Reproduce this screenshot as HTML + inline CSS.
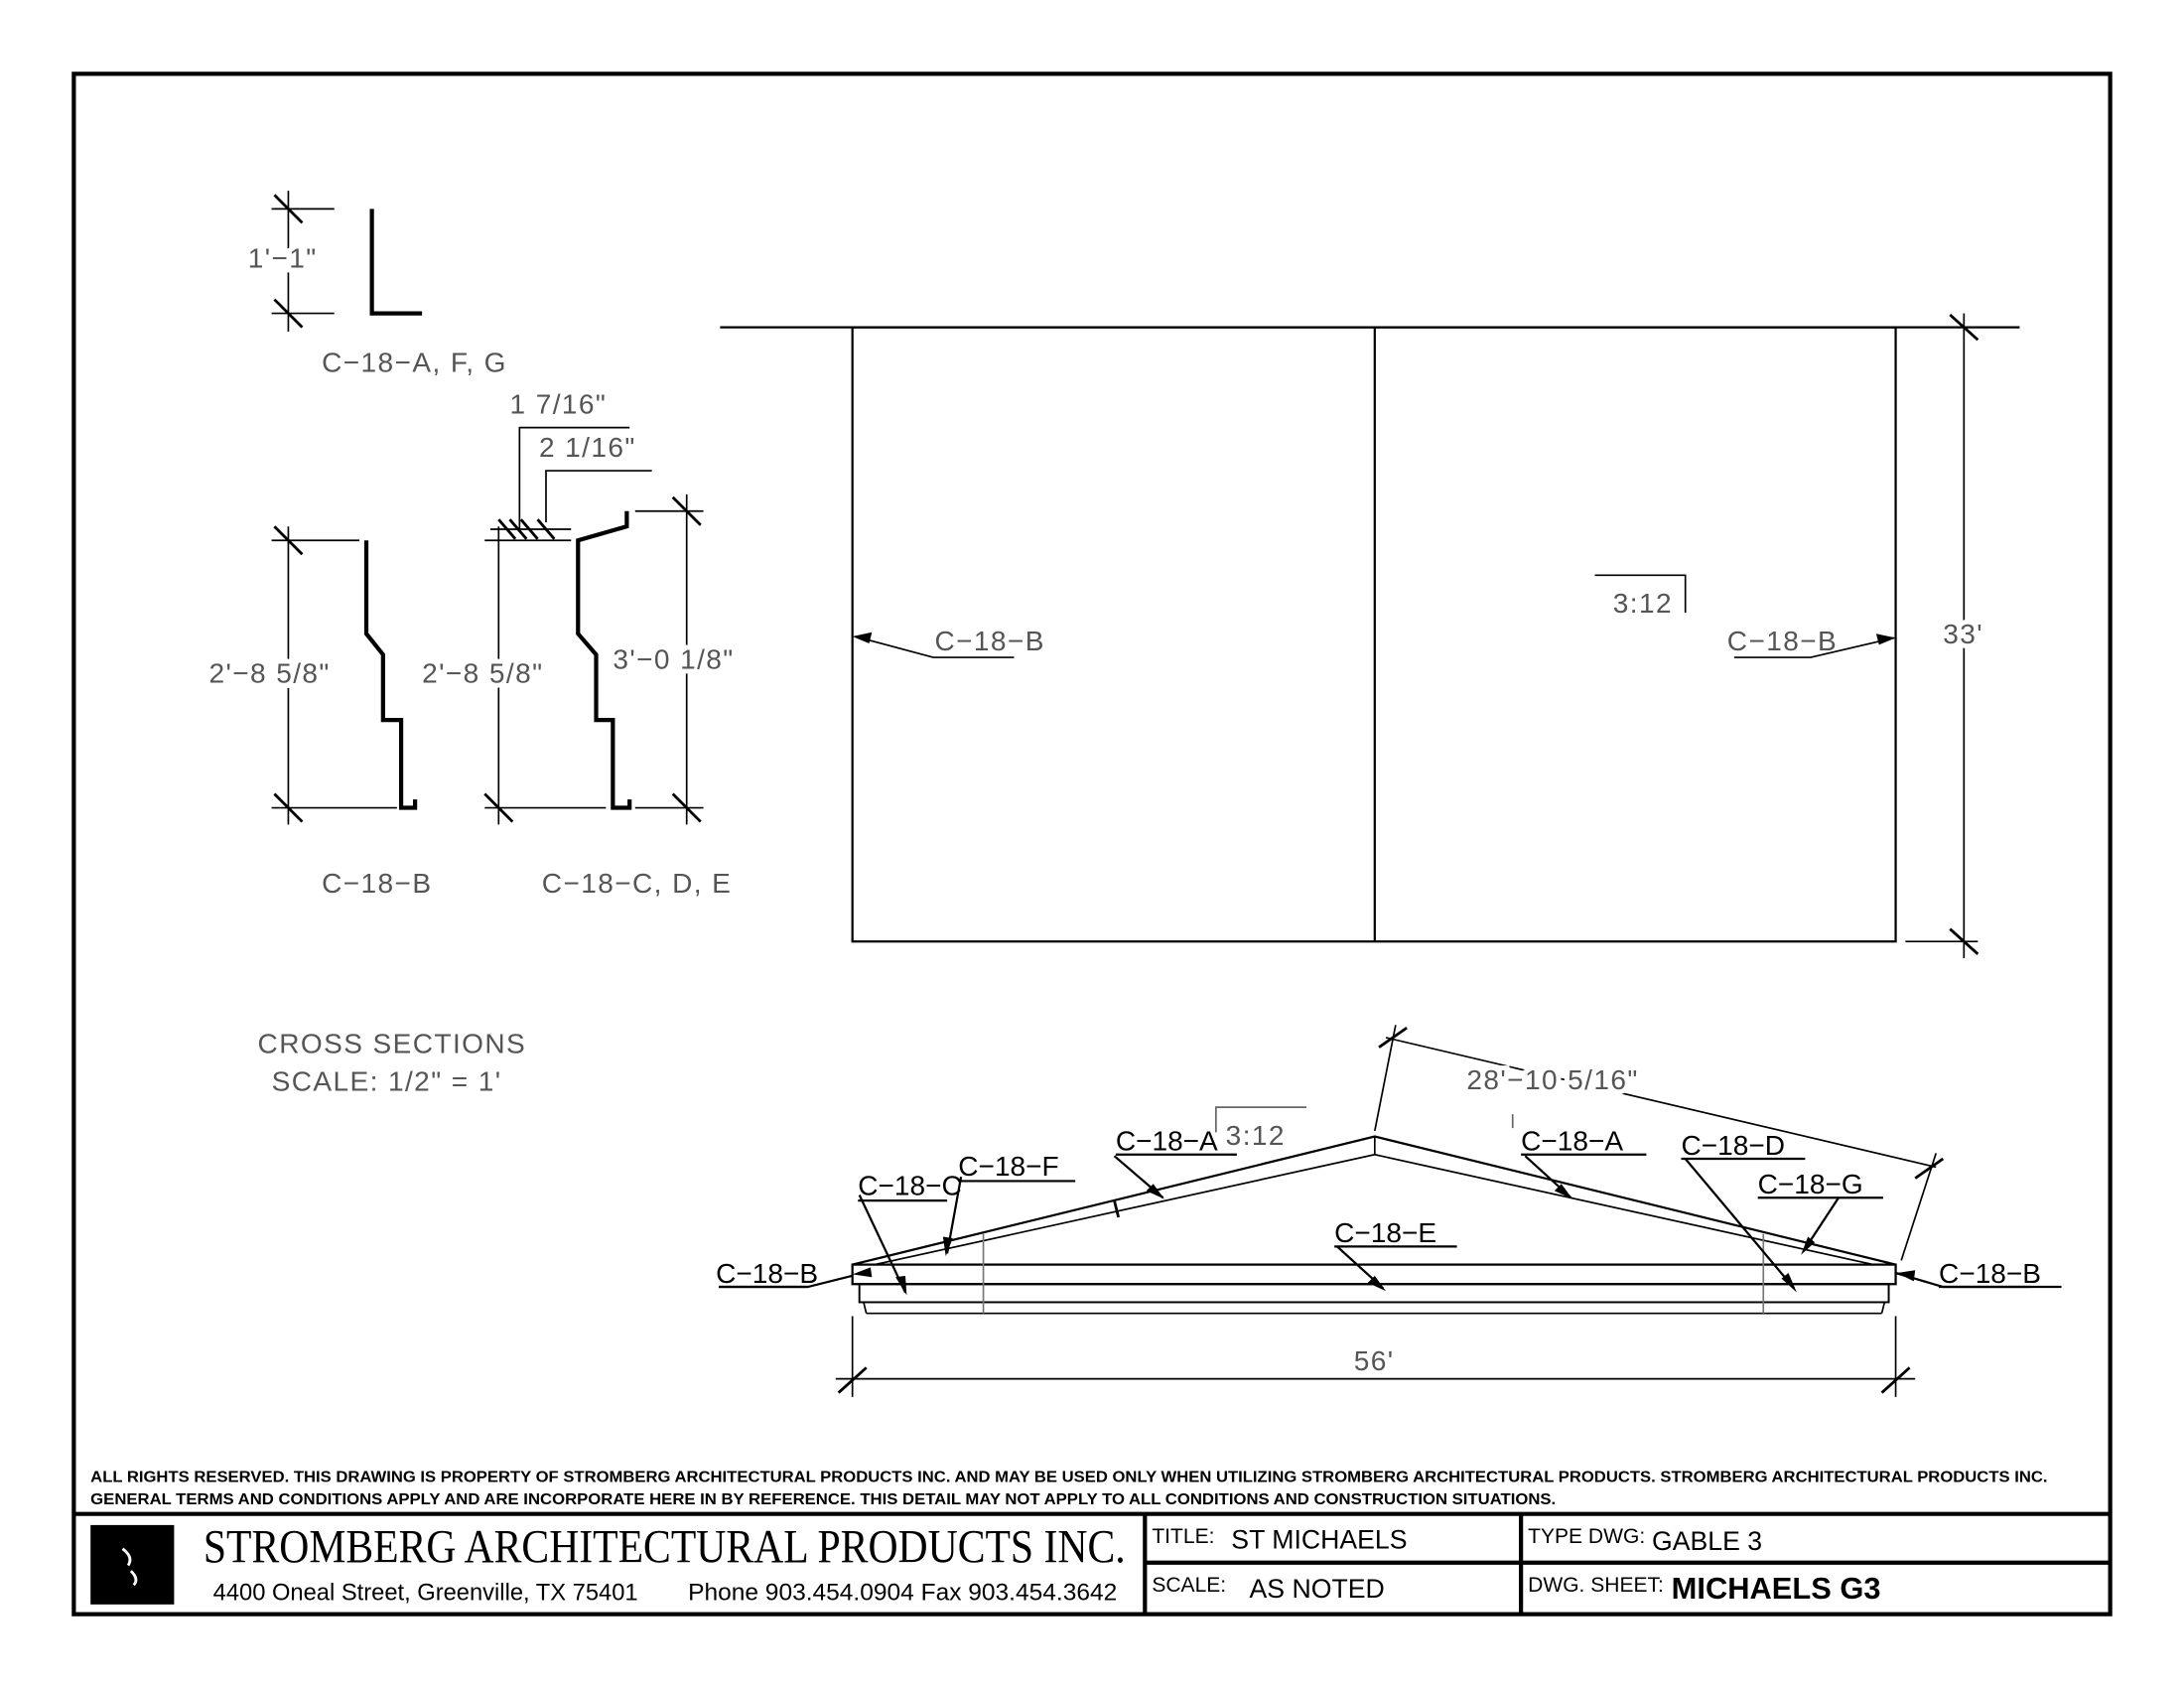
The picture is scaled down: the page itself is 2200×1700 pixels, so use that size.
<!DOCTYPE html>
<html><head><meta charset="utf-8"><style>
html,body{margin:0;padding:0;background:#fff;}
svg{display:block;}
.t{font-family:"Liberation Sans",sans-serif;font-size:20px;fill:#555;letter-spacing:1px;}
.d{stroke:#fff;stroke-width:7px;paint-order:stroke;}
.b{font-family:"Liberation Sans",sans-serif;font-size:20px;fill:#000;}
.n{font-family:"Liberation Sans",sans-serif;font-size:11.5px;font-weight:bold;fill:#000;}
</style></head><body>
<svg width="2200" height="1700" viewBox="0 0 1568 1212" preserveAspectRatio="none" xmlns="http://www.w3.org/2000/svg">
<rect width="1568" height="1212" fill="#fff"/>
<g fill="none" stroke="#000" stroke-width="1.2">
<polyline points="267,150 267,225 303,225" stroke-width="3"/>
<line x1="207" y1="137" x2="207" y2="238"/>
<line x1="197" y1="140" x2="217" y2="160" stroke-width="2"/>
<line x1="197" y1="215" x2="217" y2="235" stroke-width="2"/>
<line x1="195" y1="150" x2="240" y2="150"/>
<line x1="195" y1="225" x2="240" y2="225"/>
<polyline points="263,388 263,455 275,470 275,517 288,517 288,580 298,580 298,574" stroke-width="3"/>
<line x1="207" y1="378" x2="207" y2="592"/>
<line x1="195" y1="388" x2="258" y2="388"/>
<line x1="195" y1="580" x2="285" y2="580"/>
<line x1="197" y1="378" x2="217" y2="398" stroke-width="2"/>
<line x1="197" y1="570" x2="217" y2="590" stroke-width="2"/>
<polyline points="450,367 450,378 415,388 415,455 428,470 428,517 440,517 440,580 452,580 452,574" stroke-width="3"/>
<line x1="358" y1="378" x2="358" y2="592"/>
<line x1="348" y1="388" x2="410" y2="388"/>
<line x1="348" y1="580" x2="435" y2="580"/>
<line x1="348" y1="570" x2="368" y2="590" stroke-width="2"/>
<line x1="493" y1="355" x2="493" y2="592"/>
<line x1="456" y1="367" x2="505" y2="367"/>
<line x1="456" y1="580" x2="505" y2="580"/>
<line x1="483" y1="357" x2="503" y2="377" stroke-width="2"/>
<line x1="483" y1="570" x2="503" y2="590" stroke-width="2"/>
<line x1="352" y1="380" x2="410" y2="380"/>
<line x1="358" y1="373" x2="370" y2="387" stroke-width="2"/>
<line x1="366" y1="373" x2="378" y2="387" stroke-width="2"/>
<line x1="374" y1="373" x2="386" y2="387" stroke-width="2"/>
<line x1="386" y1="373" x2="398" y2="387" stroke-width="2"/>
<polyline points="373,380 373,307 452,307"/>
<polyline points="392,375 392,338 468,338"/>
<line x1="517" y1="235" x2="1450" y2="235" stroke-width="1.6"/>
<rect x="612" y="235" width="749" height="441" stroke-width="1.6"/>
<line x1="987" y1="235" x2="987" y2="676" stroke-width="1.6"/>
<line x1="1410" y1="225" x2="1410" y2="688"/>
<line x1="1368" y1="676" x2="1420" y2="676"/>
<line x1="1400" y1="226" x2="1420" y2="244" stroke-width="2"/>
<line x1="1400" y1="667" x2="1420" y2="685" stroke-width="2"/>
<polyline points="614,457 670,472 728,472"/>
<polyline points="1360,458 1300,472 1245,472"/>
<polyline points="1145,413 1210,413 1210,440"/>
<polyline points="612,908 987,816 1361,908" stroke-width="1.6"/>
<polyline points="628,908 987,829 1345,908" stroke-width="1.2"/>
<line x1="987" y1="816" x2="987" y2="829"/>
<rect x="612" y="908" width="749" height="14" stroke-width="1.6"/>
<rect x="617" y="922" width="739" height="13" stroke-width="1.4"/>
<line x1="622" y1="943" x2="1351" y2="943"/>
<line x1="620" y1="935" x2="622" y2="943"/>
<line x1="1353" y1="935" x2="1351" y2="943"/>
<line x1="706" y1="886" x2="706" y2="943" stroke="#777"/>
<line x1="1266" y1="886" x2="1266" y2="943" stroke="#777"/>
<line x1="800" y1="862" x2="803" y2="874" stroke-width="2"/>
<line x1="600" y1="990" x2="1375" y2="990"/>
<line x1="612" y1="945" x2="612" y2="1003"/>
<line x1="1361" y1="945" x2="1361" y2="1003"/>
<line x1="602" y1="1000" x2="622" y2="982" stroke-width="2"/>
<line x1="1351" y1="1000" x2="1371" y2="982" stroke-width="2"/>
<line x1="995" y1="745" x2="1390" y2="838"/>
<line x1="987" y1="812" x2="1002" y2="736"/>
<line x1="1365" y1="905" x2="1390" y2="828"/>
<line x1="990" y1="752" x2="1010" y2="738" stroke-width="2"/>
<line x1="1375" y1="846" x2="1395" y2="832" stroke-width="2"/>
<polyline points="873,813 873,795 938,795" stroke="#666"/>
<polyline points="1086,800 1086,810" stroke="#666"/>
<g stroke-width="1.6">
<polyline points="516,924 580,924 612,916"/>
<polyline points="1458,924 1395,924 1361,914"/>
<line x1="617" y1="858" x2="650" y2="928"/>
<line x1="690" y1="845" x2="680" y2="900"/>
<line x1="800" y1="830" x2="835" y2="860"/>
<line x1="1095" y1="830" x2="1128" y2="860"/>
<line x1="1210" y1="832" x2="1288" y2="925"/>
<line x1="1320" y1="860" x2="1295" y2="898"/>
<line x1="960" y1="895" x2="993" y2="925"/>
<line x1="616" y1="862" x2="680" y2="862"/>
<line x1="688" y1="848" x2="772" y2="848"/>
<line x1="801" y1="829" x2="888" y2="829"/>
<line x1="1092" y1="829" x2="1182" y2="829"/>
<line x1="1207" y1="832" x2="1296" y2="832"/>
<line x1="1262" y1="860" x2="1352" y2="860"/>
<line x1="958" y1="895" x2="1046" y2="895"/>
</g>
<rect x="53" y="53" width="1462" height="1106" stroke-width="3"/>
<line x1="53" y1="1087" x2="1515" y2="1087" stroke-width="3"/>
<line x1="822" y1="1087" x2="822" y2="1159" stroke-width="3"/>
<line x1="1092" y1="1087" x2="1092" y2="1159" stroke-width="3"/>
<line x1="822" y1="1122" x2="1515" y2="1122" stroke-width="3"/>
</g>
<g fill="#000">
<polygon points="612,457 626,454 624,462"/>
<polygon points="1361,458 1347,455 1349,463"/>
<polygon points="651,930 643,917 650,916"/>
<polygon points="679,902 677,888 684,889"/>
<polygon points="836,861 823,855 828,850"/>
<polygon points="1129,861 1116,855 1121,850"/>
<polygon points="1290,928 1279,918 1284,914"/>
<polygon points="1293,901 1298,888 1303,892"/>
<polygon points="995,927 982,921 987,916"/>
<polygon points="612,915 625,910 626,917"/>
<polygon points="1362,914 1375,912 1374,920"/>
<rect x="65" y="1095" width="60" height="57"/>
</g>
<g class="t">
<text class="d" x="178" y="192">1'−1"</text>
<text x="231" y="267">C−18−A, F, G</text>
<text x="366" y="297">1 7/16"</text>
<text x="387" y="328">2 1/16"</text>
<text class="d" x="150" y="490">2'−8 5/8"</text>
<text class="d" x="303" y="490">2'−8 5/8"</text>
<text class="d" x="440" y="480">3'−0 1/8"</text>
<text x="231" y="641">C−18−B</text>
<text x="389" y="641">C−18−C, D, E</text>
<text x="185" y="756">CROSS SECTIONS</text>
<text x="195" y="783">SCALE:  1/2" = 1'</text>
<text x="671" y="467">C−18−B</text>
<text x="1240" y="467">C−18−B</text>
<text x="1158" y="440">3:12</text>
<text class="d" x="1395" y="462">33'</text>
<text class="d" x="1053" y="782">28'−10 5/16"</text>
<text class="d" x="972" y="984">56'</text>
<text x="880" y="822">3:12</text>
</g>
<g class="b">
<text x="514" y="921">C−18−B</text>
<text x="616" y="858">C−18−C</text>
<text x="688" y="844">C−18−F</text>
<text x="801" y="826">C−18−A</text>
<text x="1092" y="826">C−18−A</text>
<text x="1207" y="829">C−18−D</text>
<text x="1262" y="857">C−18−G</text>
<text x="958" y="892">C−18−E</text>
<text x="1392" y="921">C−18−B</text>
</g>
<g stroke="#000" stroke-width="1.6">
<line x1="516" y1="924" x2="580" y2="924"/>
<line x1="1392" y1="924" x2="1480" y2="924"/>
</g>
<text class="n" x="65" y="1064" textLength="1405" lengthAdjust="spacingAndGlyphs">ALL RIGHTS RESERVED. THIS DRAWING IS PROPERTY OF STROMBERG ARCHITECTURAL PRODUCTS INC. AND MAY BE USED ONLY WHEN UTILIZING STROMBERG ARCHITECTURAL PRODUCTS.  STROMBERG ARCHITECTURAL PRODUCTS INC.</text>
<text class="n" x="65" y="1080" textLength="1052" lengthAdjust="spacingAndGlyphs">GENERAL TERMS AND CONDITIONS APPLY AND ARE INCORPORATE HERE IN BY REFERENCE.  THIS DETAIL MAY NOT APPLY TO ALL CONDITIONS AND CONSTRUCTION SITUATIONS.</text>
<text x="146" y="1122" font-family="Liberation Serif,serif" font-size="34" textLength="662" lengthAdjust="spacingAndGlyphs">STROMBERG ARCHITECTURAL PRODUCTS INC.</text>
<text x="153" y="1149" font-family="Liberation Sans,sans-serif" font-size="17" textLength="305" lengthAdjust="spacingAndGlyphs">4400 Oneal Street, Greenville, TX  75401</text>
<text x="494" y="1149" font-family="Liberation Sans,sans-serif" font-size="17" textLength="308" lengthAdjust="spacingAndGlyphs">Phone 903.454.0904   Fax 903.454.3642</text>
<g font-family="Liberation Sans,sans-serif">
<text x="827" y="1108" font-size="15">TITLE:</text>
<text x="884" y="1112" font-size="19">ST MICHAELS</text>
<text x="827" y="1143" font-size="15">SCALE:</text>
<text x="897" y="1147" font-size="19">AS NOTED</text>
<text x="1097" y="1108" font-size="15">TYPE DWG:</text>
<text x="1186" y="1113" font-size="19">GABLE 3</text>
<text x="1097" y="1143" font-size="15">DWG. SHEET:</text>
<text x="1200" y="1148" font-size="22" font-weight="bold">MICHAELS G3</text>
</g>
<path d="M88,1112 q8,6 4,12 M94,1128 q6,6 2,10" stroke="#fff" fill="none" stroke-width="2"/>
</svg>
</body></html>
